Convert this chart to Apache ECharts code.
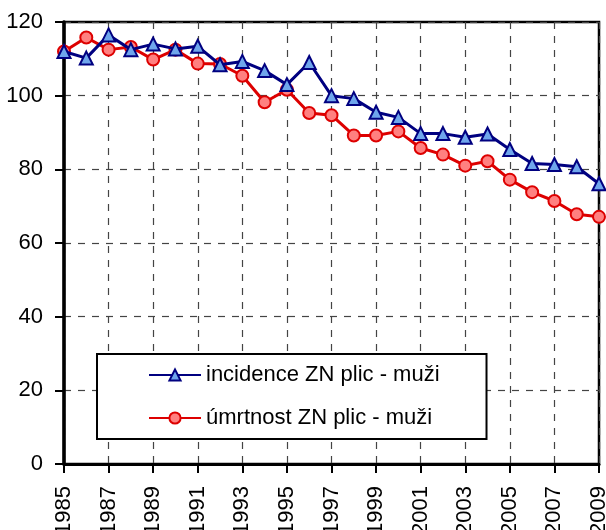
<!DOCTYPE html>
<html>
<head>
<meta charset="utf-8">
<script src="https://cdn.jsdelivr.net/npm/echarts@6/dist/echarts.min.js"></script>
<style>
html,body{margin:0;padding:0;background:#fff;}
#c{width:606px;height:530px;}
</style>
</head>
<body>
<div id="c"></div>
<script>
var years = ['1985','1986','1987','1988','1989','1990','1991','1992','1993','1994','1995','1996','1997','1998','1999','2000','2001','2002','2003','2004','2005','2006','2007','2008','2009'];
var incidence = [112.0,110.2,116.5,112.5,114.0,112.7,113.4,108.4,109.3,106.8,103.0,109.0,100.0,99.2,95.5,94.1,89.7,89.7,88.7,89.6,85.4,81.6,81.3,80.7,76.1];
var umrtnost = [112.0,115.8,112.5,113.2,109.8,112.5,108.7,108.6,105.4,98.2,101.6,95.3,94.7,89.2,89.2,90.3,85.8,84.0,81.0,82.2,77.2,73.8,71.4,67.8,67.1];
var seriesNames = ['incidence ZN plic - muži','úmrtnost ZN plic - muži'];
var yTicks = {min:0, max:120, interval:20};

var FONT = "'Liberation Sans', Arial, sans-serif";
var chart = echarts.init(document.getElementById('c'), null, {renderer:'canvas'});
chart.setOption({
  animation:false,
  backgroundColor:'#fff',
  textStyle:{fontFamily:FONT},
  grid:{left:64,right:7,top:22,bottom:66,outerBoundsMode:'none',containLabel:false,show:true,borderColor:'#000',borderWidth:2.5,backgroundColor:'transparent'},
  legend:{
    orient:'vertical',left:97,top:354,
    padding:[10,47,10,51],
    backgroundColor:'#fff',borderColor:'#000',borderWidth:2,
    itemWidth:52,itemHeight:14,itemGap:21,
    textStyle:{fontFamily:FONT,fontSize:22,color:'#000',lineHeight:22},
    data:seriesNames
  },
  xAxis:{
    type:'category',data:years,boundaryGap:false,
    axisLine:{lineStyle:{color:'#000',width:3}},
    axisTick:{show:true,interval:1,length:9,inside:false,lineStyle:{color:'#000',width:2}},
    axisLabel:{interval:1,rotate:90,margin:22,fontSize:22,color:'#000',fontFamily:FONT},
    splitLine:{show:true,interval:1,lineStyle:{color:'#444',width:1.2,type:[7,7]}}
  },
  yAxis:{
    type:'value',min:yTicks.min,max:yTicks.max,interval:yTicks.interval,
    axisLine:{show:true,lineStyle:{color:'#000',width:3.5}},
    axisTick:{show:true,length:9,lineStyle:{color:'#000',width:2}},
    axisLabel:{margin:21,fontSize:22,color:'#000',fontFamily:FONT},
    splitLine:{show:true,lineStyle:{color:'#444',width:1.2,type:[7,7]}}
  },
  series:[
    {name:seriesNames[0],type:'line',data:incidence,symbol:'triangle',symbolSize:13,
     lineStyle:{color:'#000080',width:3},
     itemStyle:{color:'#6fa6ec',borderColor:'#000080',borderWidth:2},z:3},
    {name:seriesNames[1],type:'line',data:umrtnost,symbol:'circle',symbolSize:12,
     lineStyle:{color:'#dd0000',width:3},
     itemStyle:{color:'#ff8080',borderColor:'#dd0000',borderWidth:2},z:2}
  ]
});
</script>
</body>
</html>
